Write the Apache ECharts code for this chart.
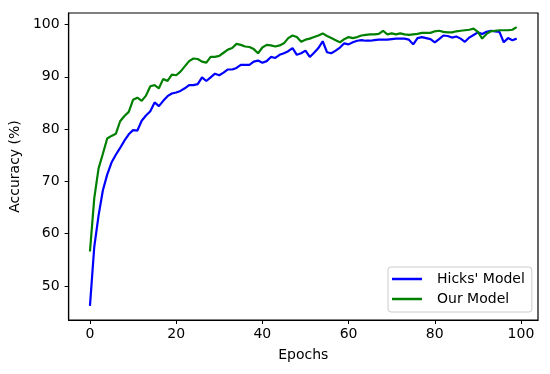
<!DOCTYPE html>
<html>
<head>
<meta charset="utf-8">
<script src="https://cdn.jsdelivr.net/npm/echarts@6/dist/echarts.min.js"></script>
<style>html,body{margin:0;padding:0;background:#fff}#c{width:550px;height:374px}</style>
</head>
<body>
<div id="c"></div>
<script>
const epochs = Array.from({length: 100}, (_, i) => i);
const hicksModel = [46.2,57.5,63.5,68.3,71.3,73.6,75.1,76.4,77.8,79.0,
79.8,79.7,81.6,82.6,83.4,85.1,84.4,85.4,86.3,86.8,
87.0,87.3,87.8,88.4,88.4,88.6,89.9,89.2,89.9,90.6,
90.3,90.8,91.4,91.4,91.7,92.3,92.3,92.3,92.9,93.1,
92.7,93.0,93.8,93.6,94.2,94.5,94.9,95.5,94.2,94.5,
95.0,93.8,94.6,95.5,96.8,94.7,94.5,95.0,95.6,96.4,
96.2,96.6,96.9,97.0,96.9,96.9,97.0,97.1,97.1,97.1,
97.2,97.3,97.3,97.3,97.1,96.2,97.4,97.6,97.4,97.2,
96.6,97.2,97.9,97.8,97.5,97.7,97.3,96.7,97.5,98.0,
98.5,98.2,98.6,98.8,98.7,98.6,96.6,97.4,97.0,97.3];
const ourModel = [56.6,66.8,72.5,75.3,78.2,78.7,79.1,81.5,82.5,83.3,
85.6,86.0,85.4,86.4,88.2,88.4,87.8,89.6,89.2,90.4,
90.3,91.0,92.0,93.0,93.5,93.4,92.9,92.7,93.8,93.8,
94.0,94.6,95.2,95.5,96.3,96.1,95.8,95.7,95.3,94.5,
95.6,96.1,96.0,95.8,96.0,96.4,97.4,97.9,97.6,96.7,
97.1,97.3,97.6,97.9,98.3,97.8,97.4,97.0,96.6,97.2,
97.6,97.4,97.6,97.9,98.0,98.1,98.1,98.2,98.8,98.1,
98.3,98.1,98.3,98.1,98.0,98.1,98.2,98.4,98.4,98.4,
98.7,98.8,98.6,98.5,98.5,98.7,98.8,98.9,99.0,99.2,
98.6,97.3,98.2,98.7,98.8,98.9,98.9,98.9,99.0,99.5];
const xTicks = [0,20,40,60,80,100];
const yTicks = [50,60,70,80,90,100];
const seriesNames = ["Hicks' Model", "Our Model"];

const font = 'DejaVu Sans';
const fs = 14;
const chart = echarts.init(document.getElementById('c'), null, {renderer: 'canvas'});
chart.setOption({
  animation: false,
  backgroundColor: '#fff',
  grid: {left: 67, right: 12, top: 13, bottom: 54, show: true, borderColor: '#000', borderWidth: 1.2, backgroundColor: 'transparent'},
  legend: {
    orient: 'vertical', left: 388, top: 267,
    data: [{name: seriesNames[0]}, {name: seriesNames[1]}],
    icon: 'rect', itemWidth: 30, itemHeight: 2.5, itemGap: 6,
    padding: [5, 7, 6, 4],
    borderColor: '#cccccc', borderWidth: 1, borderRadius: 3, backgroundColor: '#fff',
    formatter: '{a|{name}}',
    textStyle: {fontFamily: font, fontSize: fs, color: '#000',
      rich: {a: {fontFamily: font, fontSize: fs, color: '#000', padding: [0, 0, 0, 10]}}}
  },
  xAxis: {
    type: 'value', min: -4.95, max: 103.95,
    name: 'Epochs', nameLocation: 'middle', nameGap: 28,
    nameTextStyle: {fontFamily: font, fontSize: fs, color: '#000'},
    axisLine: {onZero: false, lineStyle: {color: '#000', width: 1.2}},
    axisTick: {show: true, inside: false, length: 4, lineStyle: {color: '#000', width: 1}, customValues: xTicks},
    axisLabel: {fontFamily: font, fontSize: fs, color: '#000', margin: 7, customValues: xTicks},
    splitLine: {show: false}
  },
  yAxis: {
    type: 'value', min: 43.5, max: 102.2,
    name: 'Accuracy (%)', nameLocation: 'middle', nameGap: 42,
    nameTextStyle: {fontFamily: font, fontSize: fs, color: '#000'},
    axisLine: {show: true, onZero: false, lineStyle: {color: '#000', width: 1.2}},
    axisTick: {show: true, inside: false, length: 4, lineStyle: {color: '#000', width: 1}, customValues: yTicks},
    axisLabel: {fontFamily: font, fontSize: fs, color: '#000', margin: 9, customValues: yTicks},
    splitLine: {show: false}
  },
  series: [
    {name: seriesNames[0], type: 'line', showSymbol: false, symbol: 'none',
     data: epochs.map((e, i) => [e, hicksModel[i]]),
     lineStyle: {color: '#0000ff', width: 2.2}, itemStyle: {color: '#0000ff'}},
    {name: seriesNames[1], type: 'line', showSymbol: false, symbol: 'none',
     data: epochs.map((e, i) => [e, ourModel[i]]),
     lineStyle: {color: '#008000', width: 2.2}, itemStyle: {color: '#008000'}}
  ]
});
</script>
</body>
</html>
